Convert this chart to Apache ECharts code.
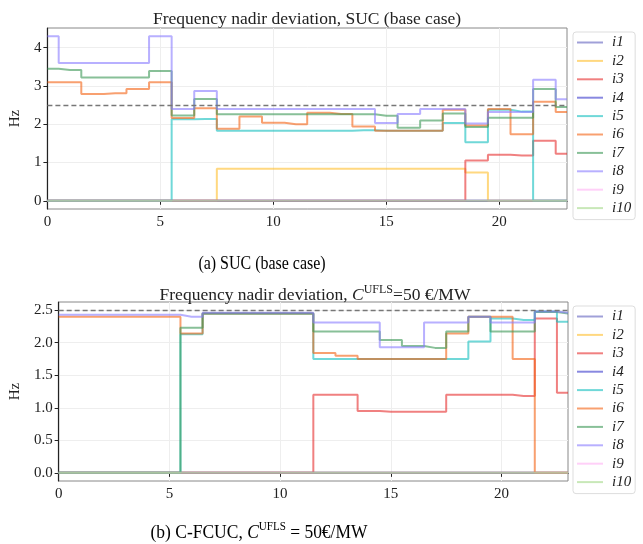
<!DOCTYPE html>
<html>
<head>
<meta charset="utf-8">
<script src="https://cdn.jsdelivr.net/npm/echarts@6/dist/echarts.min.js"></script>
<style>
html, body { margin: 0; padding: 0; background: #fff; }
#chart { width: 643px; height: 544px; }
</style>
</head>
<body>
<div id="chart"></div>
<script>
var hours = [0,1,2,3,4,5,6,7,8,9,10,11,12,13,14,15,16,17,18,19,20,21,22,23];
var names = ['i1','i2','i3','i4','i5','i6','i7','i8','i9','i10'];
var colors = ['#6161be','#ffbe2b','#e62b2b','#3939cb','#11bebe','#f36111','#399653','#897bff','#ffb1f3','#a3d989'];
var xTicks = [0, 5, 10, 15, 20];
var yTicksA = [0, 1, 2, 3, 4];
var yTicksB = [0, 0.5, 1, 1.5, 2, 2.5];
var limit = 2.5;

var zeros = [0,0,0,0,0,0,0,0,0,0,0,0,0,0,0,0,0,0,0,0,0,0,0,0];

// (a) SUC base case
var sucI1 = zeros;
var sucI2 = [0,0,0,0,0,0,0,0,0.84,0.84,0.84,0.84,0.84,0.84,0.84,0.84,0.84,0.84,0.84,0.74,0,0,0,0];
var sucI3 = [0,0,0,0,0,0,0,0,0,0,0,0,0,0,0,0,0,0,0,1.05,1.20,1.18,1.57,1.23];
var sucI4 = zeros;
var sucI5 = [0,0,0,0,0,0,2.13,2.14,1.83,1.83,1.83,1.83,1.83,1.83,1.84,1.83,1.83,1.83,2.03,1.53,2.38,2.33,0,0];
var sucI6 = [3.10,3.10,2.79,2.81,2.92,3.10,2.16,2.42,1.88,2.20,2.04,2.00,2.30,2.27,1.94,1.83,1.83,1.83,2.38,1.97,2.40,1.74,2.59,2.32];
var sucI7 = [3.45,3.42,3.22,3.22,3.22,3.39,2.23,2.66,2.26,2.26,2.26,2.26,2.26,2.26,2.26,2.22,1.91,2.10,2.28,1.93,2.17,2.17,2.92,2.45];
var sucI8 = [4.30,3.60,3.60,3.60,3.60,4.30,2.40,2.87,2.40,2.40,2.40,2.40,2.40,2.40,2.40,2.03,2.27,2.40,2.40,2.02,2.32,2.32,3.16,2.65];
var sucI9 = zeros;
var sucI10 = zeros;

// (b) C-FCUC, C_UFLS = 50
var fcI1 = zeros;
var fcI2 = zeros;
var fcI3 = [0,0,0,0,0,0,0,0,0,0,0,0,1.20,1.20,0.95,0.94,0.94,0.94,1.20,1.20,1.20,1.18,2.37,1.23];
var fcI4 = zeros;
var fcI5 = [0,0,0,0,0,0,2.13,2.45,2.45,2.45,2.45,2.45,1.75,1.75,1.75,1.75,1.75,1.75,1.75,2.02,2.37,2.35,2.48,2.32];
var fcI6 = [2.40,2.40,2.40,2.40,2.40,2.40,2.14,2.45,2.45,2.45,2.45,2.45,1.84,1.80,1.75,1.75,1.75,1.75,2.14,2.40,2.40,1.75,0,0];
var fcI7 = [0,0,0,0,0,0,2.23,2.45,2.45,2.45,2.45,2.45,2.17,2.17,2.17,2.04,1.95,1.92,2.17,2.40,2.17,2.17,2.47,2.45];
var fcI8 = [2.43,2.43,2.43,2.43,2.43,2.43,2.40,2.46,2.46,2.46,2.46,2.46,2.31,2.31,2.31,1.93,1.93,2.31,2.31,2.40,2.31,2.31,2.48,2.46];
var fcI9 = zeros;
var fcI10 = zeros;

var sucData = [sucI1,sucI2,sucI3,sucI4,sucI5,sucI6,sucI7,sucI8,sucI9,sucI10];
var fcData = [fcI1,fcI2,fcI3,fcI4,fcI5,fcI6,fcI7,fcI8,fcI9,fcI10];

var serif = '"Liberation Serif", "DejaVu Serif", serif';
var myChart = echarts.init(document.getElementById('chart'));

function pairs(vals) {
	var out = [];
	for (var i = 0; i < hours.length; i++) {
		out.push([hours[i], vals[i]]);
	}
	return out;
}

var series = [];
for (var g = 0; g < 2; g++) {
	var src = g == 0 ? sucData : fcData;
	for (var k = 0; k < names.length; k++) {
		series.push({
			name: names[k],
			type: 'line',
			xAxisIndex: g,
			yAxisIndex: g,
			step: 'middle',
			showSymbol: false,
			symbol: 'none',
			animation: false,
			color: colors[k],
			itemStyle: { color: colors[k], opacity: 0.6 },
			lineStyle: { width: 2, opacity: 0.6 },
			emphasis: { disabled: true },
			data: pairs(src[k])
		});
	}
	series.push({
		name: 'limit',
		type: 'line',
		xAxisIndex: g,
		yAxisIndex: g,
		data: [],
		animation: false,
		markLine: {
			silent: true,
			symbol: 'none',
			animation: false,
			label: { show: false },
			lineStyle: { color: '#777', width: 1.4, type: [5, 3] },
			data: [{ yAxis: limit }]
		}
	});
}

function xAxis(g) {
	return {
		type: 'value',
		gridIndex: g,
		min: 0,
		max: 23,
		interval: 5,
		axisLine: { lineStyle: { color: '#222', width: 1.2 } },
		axisTick: { show: true, length: 4, customValues: xTicks, lineStyle: { color: '#222' } },
		axisLabel: { customValues: xTicks, color: '#222', fontFamily: serif, fontSize: 15, margin: 6 },
		splitLine: { show: true, lineStyle: { color: '#eeeeee', width: 1 } }
	};
}

function yAxis(g, lo, hi, ticks, gap, digits) {
	return {
		type: 'value',
		gridIndex: g,
		min: lo,
		max: hi,
		name: 'Hz',
		nameLocation: 'middle',
		nameGap: gap,
		nameTextStyle: { fontFamily: serif, fontSize: 15, color: '#222' },
		axisLine: { show: true, lineStyle: { color: '#222', width: 1.2 } },
		axisTick: { show: true, length: 4, customValues: ticks, lineStyle: { color: '#222' } },
		axisLabel: {
			customValues: ticks, color: '#222', fontFamily: serif, fontSize: 15, margin: 6,
			formatter: function(v) { return v.toFixed(digits); }
		},
		splitLine: { show: true, lineStyle: { color: '#eeeeee', width: 1 } }
	};
}

function legend(top) {
	return {
		orient: 'vertical',
		left: 573,
		top: top,
		data: names,
		icon: 'rect',
		itemWidth: 26,
		itemHeight: 2,
		itemGap: 3.4,
		padding: [3, 4, 4, 4],
		backgroundColor: '#fff',
		borderColor: '#dddddd',
		borderWidth: 1,
		borderRadius: 3,
		selectedMode: false,
		textStyle: { fontFamily: serif, fontStyle: 'italic', fontSize: 15, lineHeight: 14, color: '#222', padding: [0, 0, 0, 4] }
	};
}

var option = {
	backgroundColor: '#fff',
	animation: false,
	title: [{
		text: 'Frequency nadir deviation, SUC (base case)',
		left: 302,
		top: 5,
		textAlign: 'center',
		textStyle: { fontFamily: serif, fontSize: 17.5, fontWeight: 'normal', color: '#222' }
	}, {
		text: 'Frequency nadir deviation, {it|C}{sup|UFLS}=50 €/MW',
		left: 310,
		top: 279,
		textAlign: 'center',
		textStyle: {
			fontFamily: serif, fontSize: 17.5, fontWeight: 'normal', color: '#222', lineHeight: 22,
			rich: {
				it: { fontFamily: serif, fontSize: 17.5, fontStyle: 'italic', color: '#222', lineHeight: 22 },
				sup: { fontFamily: serif, fontSize: 12, color: '#222', lineHeight: 12, verticalAlign: 'top' }
			}
		}
	}],
	grid: [
		{ left: 44, top: 28, width: 523, height: 181, show: true, borderColor: '#888', borderWidth: 1, backgroundColor: 'transparent' },
		{ left: 55, top: 302, width: 513, height: 179, show: true, borderColor: '#888', borderWidth: 1, backgroundColor: 'transparent' }
	],
	xAxis: [xAxis(0), xAxis(1)],
	yAxis: [
		yAxis(0, -0.215, 4.515, yTicksA, 22, 0),
		yAxis(1, -0.125, 2.625, yTicksB, 34, 1)
	],
	legend: [legend(32), legend(306)],
	graphic: [{
		type: 'text',
		x: 262,
		y: 264,
		scaleX: 0.84,
		style: { text: '(a) SUC (base case)', font: '19px "Liberation Serif"', fill: '#000', align: 'center', verticalAlign: 'middle' }
	}, {
		type: 'text',
		x: 259,
		y: 533,
		scaleX: 0.92,
		style: {
			text: '(b) C-FCUC, {it|C}{sup|UFLS} = 50€/MW',
			font: '19px "Liberation Serif"',
			fill: '#000', align: 'center', verticalAlign: 'middle',
			rich: {
				it: { font: 'italic 19px "Liberation Serif"', fill: '#000', lineHeight: 24 },
				sup: { font: '12px "Liberation Serif"', fill: '#000', lineHeight: 13, verticalAlign: 'top' }
			}
		}
	}],
	series: series
};
myChart.setOption(option);
</script>
</body>
</html>
